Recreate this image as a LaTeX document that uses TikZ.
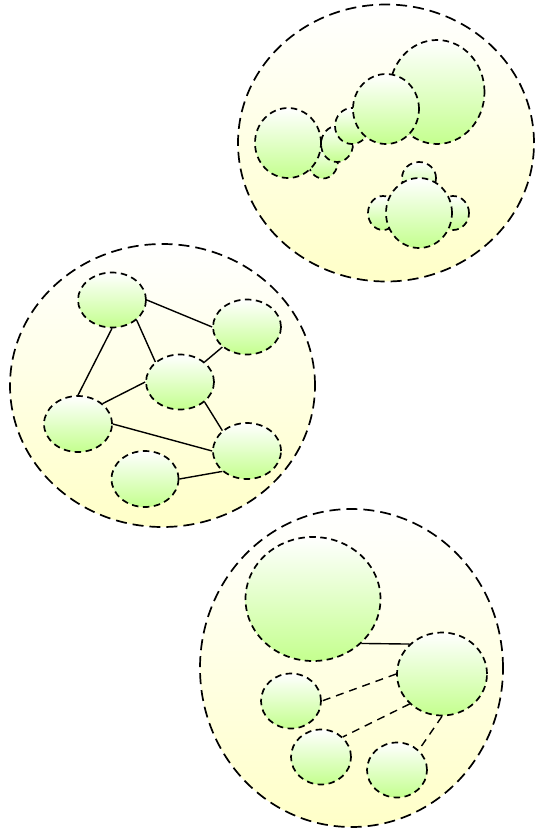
\documentclass[tikz,border=0pt]{standalone}
\usetikzlibrary{shapes.geometric}
\definecolor{outerbot}{RGB}{255,255,200}
\definecolor{innerbot}{RGB}{196,255,142}
\tikzset{
  outer/.style={ellipse, draw=black, line width=1.7pt, dash pattern=on 11pt off 6pt,
    top color=white, bottom color=outerbot, inner sep=0pt},
  inner/.style={ellipse, draw=black, line width=1.7pt, dash pattern=on 6.5pt off 4.5pt,
    top color=white, bottom color=innerbot, inner sep=0pt},
  link/.style={draw=black, line width=1.4pt},
  dlink/.style={draw=black, line width=1.4pt, dash pattern=on 8pt off 6pt},
}
\newcommand{\mkell}[5]{\node[#1, minimum width=#4pt, minimum height=#5pt] (#2) at #3 {};}
\begin{document}
\begin{tikzpicture}[x=1pt,y=-1pt]
\useasboundingbox (0,0) rectangle (539,830);
% top cluster
\mkell{outer}{T}{(386,143)}{296}{277}
\mkell{inner}{t1}{(437,92)}{95}{104}
\mkell{inner}{t5}{(323,161)}{30}{35}
\mkell{inner}{t4}{(337,144)}{32}{36}
\mkell{inner}{t3}{(352,126)}{34}{36}
\mkell{inner}{t2}{(386,109)}{66}{70}
\mkell{inner}{t6}{(288,143)}{66}{70}
\mkell{inner}{b1}{(419,178)}{34}{32}
\mkell{inner}{b2}{(383,213)}{30}{34}
\mkell{inner}{b3}{(453,213)}{32}{34}
\mkell{inner}{b4}{(419,213)}{66}{70}
% middle cluster
\mkell{outer}{M}{(162.5,385.5)}{305}{283}
\mkell{inner}{mA}{(112,300)}{68}{55}
\mkell{inner}{mB}{(247,327)}{68}{55}
\mkell{inner}{mC}{(180,382)}{68}{55}
\mkell{inner}{mD}{(78,424)}{68}{56}
\mkell{inner}{mE}{(247,451)}{68}{56}
\mkell{inner}{mF}{(145,479)}{67}{56}
\draw[link] (mA.east) -- (mB.west);
\draw[link] (mA.south east) -- (mC.north west);
\draw[link] (mA.south) -- (mD.north);
\draw[link] (mB.south west) -- (mC.north east);
\draw[link] (mC.west) -- (mD.north east);
\draw[link] (mC.south east) -- (mE.north west);
\draw[link] (mD.east) -- (mE.west);
\draw[link] (mF.east) -- (mE.south west);
% bottom cluster
\mkell{outer}{B}{(351.5,668)}{303}{318}
\mkell{inner}{nBig}{(313,599)}{135}{124}
\mkell{inner}{nR}{(442,674)}{90}{83}
\mkell{inner}{nL}{(291,701)}{60}{55}
\mkell{inner}{nBL}{(321,757)}{60}{55}
\mkell{inner}{nBR}{(397,770)}{60}{55}
\draw[link] (nBig.south east) -- (nR.north west);
\draw[dlink] (nR.west) -- (nL.east);
\draw[dlink] (nR.south west) -- (nBL.north east);
\draw[dlink] (nR.south) -- (nBR.north east);
\end{tikzpicture}
\end{document}
